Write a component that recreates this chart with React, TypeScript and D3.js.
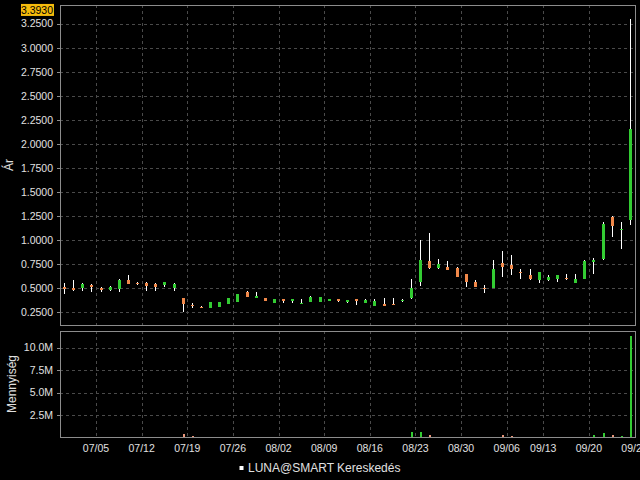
import React from "react";
import * as d3 from "d3";

const dates = [
  "06/29","06/30","07/01","07/02",
  "07/05","07/06","07/07","07/08","07/09",
  "07/12","07/13","07/14","07/15","07/16",
  "07/19","07/20","07/21","07/22","07/23",
  "07/26","07/27","07/28","07/29","07/30",
  "08/02","08/03","08/04","08/05","08/06",
  "08/09","08/10","08/11","08/12","08/13",
  "08/16","08/17","08/18","08/19","08/20",
  "08/23","08/24","08/25","08/26","08/27",
  "08/30","08/31","09/01","09/02","09/03",
  "09/07","09/08","09/09","09/10",
  "09/13","09/14","09/15","09/16","09/17",
  "09/20","09/21","09/22","09/23","09/24",
];

const open = [
  0.51,0.50,0.50,0.53,0.50,0.48,0.49,0.59,0.555,0.55,
  0.545,0.53,0.50,0.40,0.33,0.31,0.29,0.30,0.335,0.36,
  0.465,0.40,0.40,0.345,0.385,0.37,0.34,0.36,0.355,0.37,
  0.385,0.355,0.385,0.345,0.32,0.335,0.34,0.365,0.40,0.57,
  0.78,0.71,0.72,0.71,0.65,0.57,0.50,0.50,0.76,0.74,
  0.67,0.64,0.585,0.59,0.60,0.61,0.55,0.60,0.775,0.80,
  1.245,1.105,1.21,
];
const high = [
  0.55,0.585,0.55,0.545,0.515,0.52,0.60,0.64,0.57,0.56,
  0.55,0.57,0.55,0.40,0.345,0.315,0.36,0.355,0.395,0.44,
  0.47,0.465,0.40,0.39,0.39,0.39,0.39,0.415,0.41,0.385,
  0.39,0.375,0.39,0.39,0.39,0.40,0.40,0.385,0.60,1.00,
  1.07,0.80,0.78,0.72,0.65,0.59,0.53,0.79,0.89,0.845,
  0.70,0.70,0.67,0.64,0.64,0.645,0.65,0.79,0.81,1.19,
  1.25,1.19,3.30,
];
const low = [
  0.44,0.475,0.47,0.465,0.46,0.47,0.465,0.54,0.53,0.475,
  0.475,0.515,0.475,0.25,0.29,0.29,0.29,0.30,0.335,0.36,
  0.41,0.395,0.37,0.345,0.35,0.345,0.34,0.355,0.355,0.365,
  0.36,0.35,0.33,0.345,0.315,0.315,0.33,0.36,0.39,0.52,
  0.70,0.70,0.69,0.62,0.51,0.51,0.455,0.50,0.62,0.64,
  0.60,0.59,0.55,0.58,0.56,0.59,0.55,0.60,0.65,0.79,
  1.03,0.91,1.16,
];
const close = [
  0.49,0.48,0.54,0.51,0.485,0.51,0.59,0.545,0.545,0.525,
  0.51,0.56,0.545,0.335,0.315,0.30,0.355,0.355,0.395,0.44,
  0.41,0.42,0.37,0.39,0.37,0.385,0.35,0.41,0.405,0.385,
  0.365,0.375,0.37,0.375,0.37,0.32,0.33,0.38,0.50,0.79,
  0.71,0.75,0.69,0.62,0.57,0.51,0.49,0.70,0.725,0.70,
  0.655,0.60,0.67,0.615,0.64,0.595,0.595,0.785,0.795,1.17,
  1.15,1.12,2.16,
];
const volume = [
  0.08,0.10,0.05,0.06,0.04,0.05,0.12,0.10,0.04,0.05,
  0.06,0.04,0.05,0.42,0.20,0.06,0.08,0.07,0.06,0.09,
  0.10,0.06,0.08,0.05,0.04,0.05,0.04,0.06,0.05,0.04,
  0.05,0.04,0.06,0.05,0.07,0.06,0.05,0.04,0.60,0.62,
  0.30,0.12,0.10,0.08,0.10,0.08,0.06,0.12,0.25,0.18,
  0.07,0.06,0.10,0.06,0.05,0.05,0.06,0.12,0.25,0.48,
  0.30,0.22,11.3,
].map((v) => v * 1e6);

const priceTicks = [0.25,0.5,0.75,1.0,1.25,1.5,1.75,2.0,2.25,2.5,2.75,3.0,3.25];
const volumeTicks = [2.5e6, 5e6, 7.5e6, 10e6];
const volumeTickLabels = ["2.5M", "5.0M", "7.5M", "10.0M"];
const xTickLabels = ["07/05","07/12","07/19","07/26","08/02","08/09","08/16","08/23","08/30","09/06","09/13","09/20","09/27"];
const lastPrice = 3.393;
const legendLabel = "LUNA@SMART Kereskedés";
const priceTitle = "Ár";
const volumeTitle = "Mennyiség";

const UP = "#33cc33";
const DOWN = "#f0884a";
const DOWN_VOL = "#e8957a";
const GRID = "#4a4a4a";
const BORDER = "#8c8c8c";
const TEXT = "#e0e0e0";
const FONT = "'Liberation Sans', Arial, sans-serif";

export default function App() {
  const W = 640, H = 480;
  const left = 60, right = 636;
  const pTop = 5, pBot = 326, vTop = 331, vBot = 438;
  const n = dates.length;
  const x = d3.scaleBand<number>().domain(d3.range(n)).range([59.5, 634.5]).padding(0);
  const bw = x.bandwidth();
  const cx = (i: number) => Math.round((x(i) as number) + bw / 2);
  const y = d3.scaleLinear().domain([0.25, 3.25]).range([312.3, 23.7]);
  const yv = d3.scaleLinear().domain([0, 10e6]).range([437.7, 347.5]);

  const tickX = xTickLabels.map((lab) => {
    const idx = dates.findIndex((d) => d >= lab);
    return idx < 0 ? 634.5 : (x(idx) as number);
  });

  const fmt = d3.format(".4f");

  return (
    <div>
      <style>{`body{margin:0;background:#000;}`}</style>
      <svg width={W} height={H} style={{ display: "block", background: "#000" }} fontFamily={FONT}>
        <rect x={0} y={0} width={W} height={H} fill="#000" />
        <defs>
          <clipPath id="pclip"><rect x={left} y={pTop} width={right - left} height={pBot - pTop} /></clipPath>
          <clipPath id="vclip"><rect x={left} y={vTop} width={right - left} height={vBot - vTop} /></clipPath>
        </defs>
        {/* grid price */}
        <g shapeRendering="crispEdges" stroke={GRID} strokeDasharray="3,3">
          {priceTicks.map((t) => (
            <line key={"pg" + t} x1={left} x2={right} y1={Math.round(y(t)) + 0.5} y2={Math.round(y(t)) + 0.5} />
          ))}
          {tickX.map((tx, k) => (
            <line key={"vg" + k} x1={Math.round(tx) + 0.5} x2={Math.round(tx) + 0.5} y1={pTop} y2={pBot} />
          ))}
          {volumeTicks.map((t) => (
            <line key={"vvg" + t} x1={left} x2={right} y1={Math.round(yv(t)) + 0.5} y2={Math.round(yv(t)) + 0.5} />
          ))}
          {tickX.map((tx, k) => (
            <line key={"vvx" + k} x1={Math.round(tx) + 0.5} x2={Math.round(tx) + 0.5} y1={vTop} y2={vBot} />
          ))}
        </g>
        {/* candles */}
        <g clipPath="url(#pclip)" shapeRendering="crispEdges">
          {dates.map((d, i) => {
            const c = cx(i);
            const up = close[i] >= open[i];
            const yTop = y(Math.max(open[i], close[i]));
            const yBot = y(Math.min(open[i], close[i]));
            const bh = Math.max(1, yBot - yTop);
            return (
              <g key={"c" + i}>
                <rect x={c} y={y(high[i])} width={1} height={Math.max(1, y(low[i]) - y(high[i]))} fill="#ffffff" />
                <rect x={c - 1} y={yTop} width={3} height={bh} fill={up ? UP : DOWN} />
              </g>
            );
          })}
        </g>
        {/* volume bars */}
        <g clipPath="url(#vclip)" shapeRendering="crispEdges">
          {dates.map((d, i) => {
            const c = cx(i);
            const up = close[i] >= open[i];
            const yt = yv(volume[i]);
            return (
              <rect key={"v" + i} x={c - 0.5} y={yt} width={2} height={Math.max(0.6, yv(0) - yt)} fill={up ? UP : DOWN_VOL} />
            );
          })}
        </g>
        {/* borders */}
        <g fill="none" stroke={BORDER} shapeRendering="crispEdges">
          <rect x={left + 0.5} y={pTop + 0.5} width={right - left - 1} height={pBot - pTop - 1} />
          <rect x={left + 0.5} y={vTop + 0.5} width={right - left - 1} height={vBot - vTop - 1} />
        </g>
        {/* price axis */}
        <g fill={TEXT} fontSize={10.5} textAnchor="end">
          {priceTicks.map((t) => (
            <g key={"pt" + t}>
              <line x1={57} x2={60} y1={Math.round(y(t)) + 0.5} y2={Math.round(y(t)) + 0.5} stroke={BORDER} shapeRendering="crispEdges" />
              <text x={53} y={y(t)} dy="0.36em">{fmt(t)}</text>
            </g>
          ))}
          {volumeTicks.map((t, k) => (
            <g key={"vt" + t}>
              <line x1={57} x2={60} y1={Math.round(yv(t)) + 0.5} y2={Math.round(yv(t)) + 0.5} stroke={BORDER} shapeRendering="crispEdges" />
              <text x={53} y={yv(t)} dy="0.36em">{volumeTickLabels[k]}</text>
            </g>
          ))}
        </g>
        {/* last price label */}
        <g>
          <rect x={21} y={y(lastPrice) - 6} width={33} height={12} fill="#f5bb0c" />
          <text x={53} y={y(lastPrice)} dy="0.36em" textAnchor="end" fontSize={10.5} fill="#000">{fmt(lastPrice)}</text>
        </g>
        {/* x axis labels */}
        <g fill={TEXT} fontSize={10.5} textAnchor="middle">
          {xTickLabels.map((lab, k) => (
            <text key={"xl" + lab} x={tickX[k]} y={452}>{lab}</text>
          ))}
        </g>
        {/* titles */}
        <text transform="translate(13,165) rotate(-90)" textAnchor="middle" fill={TEXT} fontSize={12}>{priceTitle}</text>
        <text transform="translate(16,384) rotate(-90)" textAnchor="middle" fill={TEXT} fontSize={12}>{volumeTitle}</text>
        {/* legend */}
        <rect x={239.5} y={466} width={4} height={4} fill="#ffffff" />
        <text x={248} y={472} fill={TEXT} fontSize={12}>{legendLabel}</text>
      </svg>
    </div>
  );
}
